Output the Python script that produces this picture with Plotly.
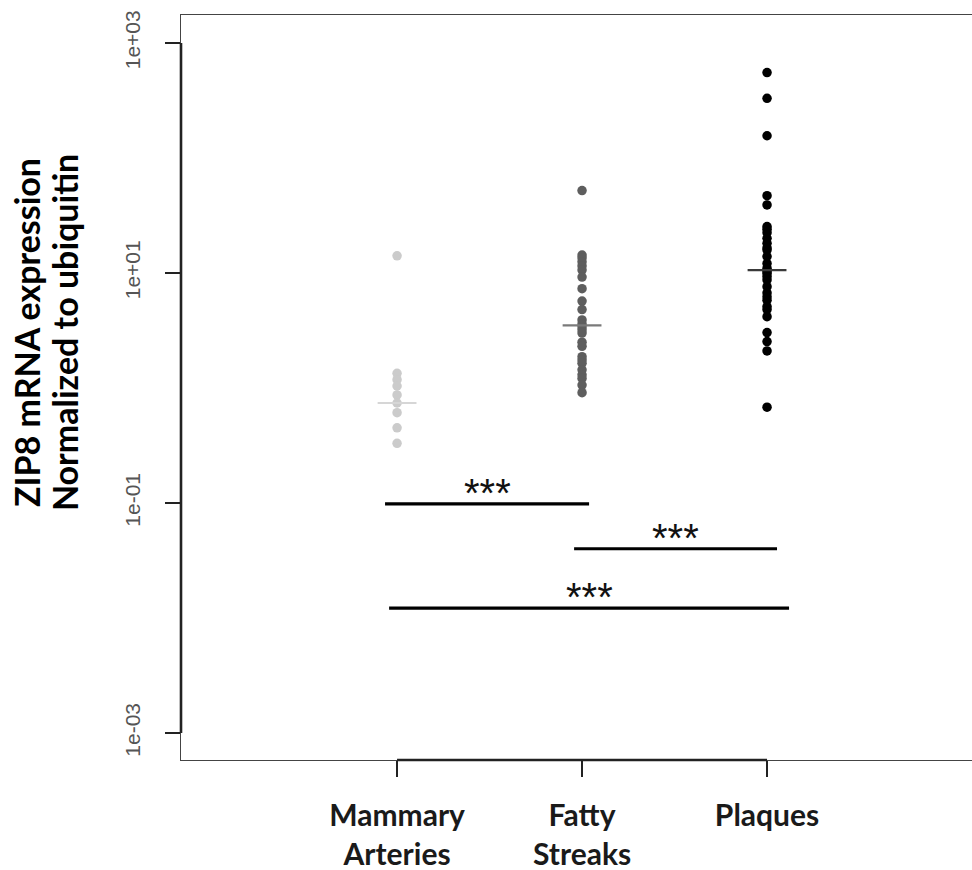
import numpy as np
import plotly.graph_objects as go

# ---- data ----
groups = ["Mammary<br>Arteries", "Fatty<br>Streaks", "Plaques"]
group_pos = [1, 2, 3]

mammary = [14.1, 1.34, 1.18, 1.04, 0.87, 0.74, 0.61, 0.45, 0.33]
fatty = [52, 14.3, 13.5, 12.5, 11.5, 10.6, 9.2, 7.3, 5.7, 4.8, 3.9, 3.6, 3.4,
         3.2, 3.0, 2.5, 2.3, 1.87, 1.75, 1.64, 1.44, 1.30, 1.21, 1.06, 0.91]
plaques = [552, 330, 156, 47, 39, 25.3, 24, 22.4, 20, 18.1, 16.5, 15.8, 13.9,
           12.1, 11, 10.3, 9.9, 9.3, 8.7, 7.6, 6.7, 6.2, 5.8, 5.1, 4.8, 4.17,
           3.03, 2.53, 2.1, 0.68]
centers = [0.74, 3.5, 10.6]

sig_x0 = [0.935, 1.957, 0.957]
sig_x1 = [2.038, 3.054, 3.119]
sig_y = [0.098, 0.040, 0.0122]
sig_label = ["***", "***", "***"]

y_tickvals = [1e-3, 1e-1, 1e1, 1e3]
y_ticktext = ["1e-03", "1e-01", "1e+01", "1e+03"]
y_title_lines = ["ZIP8 mRNA expression", "Normalized to ubiquitin"]

# ---- styling ----
dot_colors = ["#cbcbcb", "#5e5e5e", "#000000"]
center_colors = ["#d6d6d6", "#7a7a7a", "#3a3a3a"]

fig = go.Figure()
for pos, vals, col in zip(group_pos, [mammary, fatty, plaques], dot_colors):
    fig.add_trace(go.Scatter(
        x=[pos] * len(vals), y=vals, mode="markers",
        marker=dict(size=9.5, color=col, line=dict(width=0)),
        showlegend=False, hoverinfo="y"))

for pos, c, col in zip(group_pos, centers, center_colors):
    fig.add_trace(go.Scatter(
        x=[pos - 0.105, pos + 0.105], y=[c, c], mode="lines",
        line=dict(color=col, width=2.2), showlegend=False, hoverinfo="skip"))

for x0, x1, yv, lab in zip(sig_x0, sig_x1, sig_y, sig_label):
    fig.add_trace(go.Scatter(
        x=[x0, x1], y=[yv, yv], mode="lines",
        line=dict(color="#000000", width=3.2), showlegend=False,
        hoverinfo="skip"))
    fig.add_annotation(
        x=(x0 + x1) / 2, y=np.log10(yv), text=lab, showarrow=False,
        xanchor="center", yanchor="bottom", yshift=-13,
        font=dict(family="Liberation Sans", size=40, color="#111111"))

# thicker R-style axis segments
fig.add_shape(type="line", xref="x", yref="paper",
              x0=group_pos[0], x1=group_pos[-1], y0=0, y1=0,
              line=dict(color="#222222", width=2.6))
fig.add_shape(type="line", xref="paper", yref="y",
              x0=0, x1=0, y0=y_tickvals[0], y1=y_tickvals[-1],
              line=dict(color="#222222", width=2.6))

for line_text, shift in zip(y_title_lines, [-155, -117]):
    fig.add_annotation(
        xref="paper", yref="paper", x=0, y=0.573, xshift=shift,
        text="<b>" + line_text + "</b>",
        textangle=-90, showarrow=False, xanchor="center", yanchor="middle",
        font=dict(family="Lato", size=34, color="#000000"))

fig.update_xaxes(
    range=[-0.168, 4.108], tickvals=group_pos, ticktext=groups,
    showline=True, mirror=True, linecolor="#444444", linewidth=1.4,
    ticks="outside", ticklen=16, tickwidth=2.4, tickcolor="#222222",
    ticklabelstandoff=13, showgrid=False, zeroline=False,
    tickfont=dict(family="Lato", size=30, color="#1a1a1a", weight="bold"))
fig.update_yaxes(
    type="log", range=[-3.235, 3.243], tickvals=y_tickvals, ticktext=y_ticktext,
    tickangle=-90, showline=True, mirror=False, linecolor="#444444",
    linewidth=1.4, ticks="outside", ticklen=15, tickwidth=2.4,
    tickcolor="#222222", ticklabelstandoff=16, showgrid=False, zeroline=False,
    tickfont=dict(family="Liberation Sans", size=21, color="#555555"))

fig.update_layout(
    width=972, height=870,
    margin=dict(l=181, r=0, t=15, b=110, autoexpand=False),
    paper_bgcolor="white", plot_bgcolor="white")

fig.write_html(
    "out.html",
    config={"displayModeBar": False},
    post_script="document.body.style.margin='0px';"
                "document.body.style.overflow='hidden';")
